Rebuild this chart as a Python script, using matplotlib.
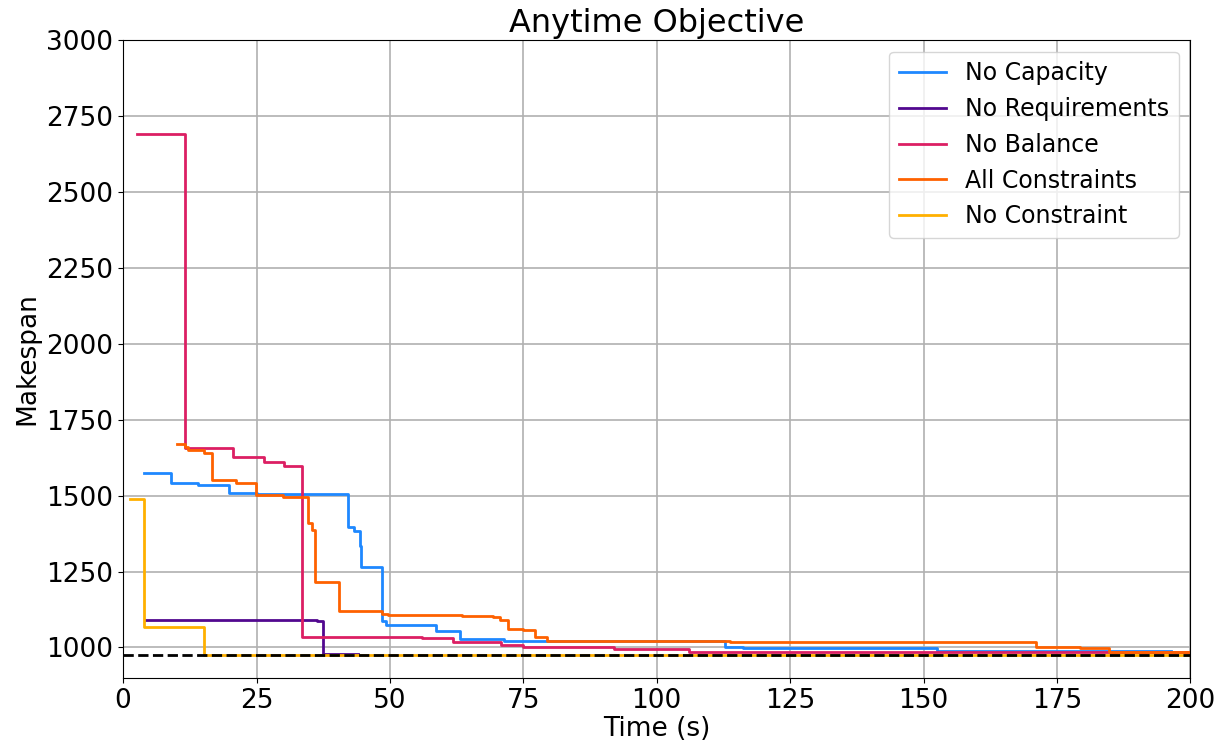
import matplotlib.pyplot as plt

# anytime makespan traces (time in s, value starts at that time)
cap_t = [3.9, 8.9, 14.0, 19.8, 25.0, 42.2, 43.3, 44.3, 44.6, 48.5, 49.3, 58.7, 63.2, 71.3,
         112.8, 116.2, 152.5, 196.3]
cap_y = [1574, 1543, 1536, 1509, 1504, 1395, 1384, 1333, 1265, 1086, 1075, 1054, 1027, 1022,
         1001, 997, 990, 990]

req_t = [4.1, 36.3, 37.5, 44.1]
req_y = [1090, 1086, 980, 980]

bal_t = [2.6, 11.6, 20.6, 26.4, 30.2, 33.5, 56.0, 61.9, 70.9, 75.0, 91.9, 106.0, 200.0]
bal_y = [2690, 1657, 1627, 1610, 1599, 1034, 1030, 1018, 1008, 1002, 995, 986, 986]

all_t = [10.1, 11.6, 12.2, 15.1, 16.6, 21.2, 24.9, 30.0, 34.7, 35.4, 36.0, 40.4, 48.5, 49.7,
         63.5, 69.4, 70.7, 72.2, 75.0, 77.1, 79.5, 113.8, 120.0, 171.1, 179.4, 184.7, 200.0]
all_y = [1669, 1660, 1650, 1639, 1551, 1543, 1502, 1497, 1411, 1386, 1214, 1119, 1111, 1106,
         1103, 1100, 1090, 1062, 1057, 1035, 1021, 1019, 1017, 1001, 998, 986, 986]

none_t = [1.3, 3.9, 15.1, 200.0]
none_y = [1489, 1067, 975, 975]

best_known = 975

series = [
    ("No Capacity", cap_t, cap_y, "#1E88FF"),
    ("No Requirements", req_t, req_y, "#52088F"),
    ("No Balance", bal_t, bal_y, "#DC1F63"),
    ("All Constraints", all_t, all_y, "#FE6100"),
    ("No Constraint", none_t, none_y, "#FFB000"),
]

fig, ax = plt.subplots(figsize=(12.31, 7.54), dpi=100)
for name, t, y, c in series:
    ax.plot(t, y, drawstyle='steps-post', color=c, lw=2, label=name)
ax.axhline(best_known, color='black', ls='--', lw=2)

ax.set_xlim(0, 200)
ax.set_ylim(900, 3000)
ax.set_yticks(range(1000, 3001, 250))
ax.grid(True, color='#b0b0b0', lw=1.2)
ax.tick_params(labelsize=19)
ax.set_xlabel('Time (s)', fontsize=19, labelpad=2)
ax.set_ylabel('Makespan', fontsize=19, labelpad=4)
ax.set_title('Anytime Objective', fontsize=23, pad=6)
ax.legend(loc='upper right', fontsize=17)

plt.subplots_adjust(left=0.1, right=0.967, top=0.947, bottom=0.101)
plt.savefig("out.png")
